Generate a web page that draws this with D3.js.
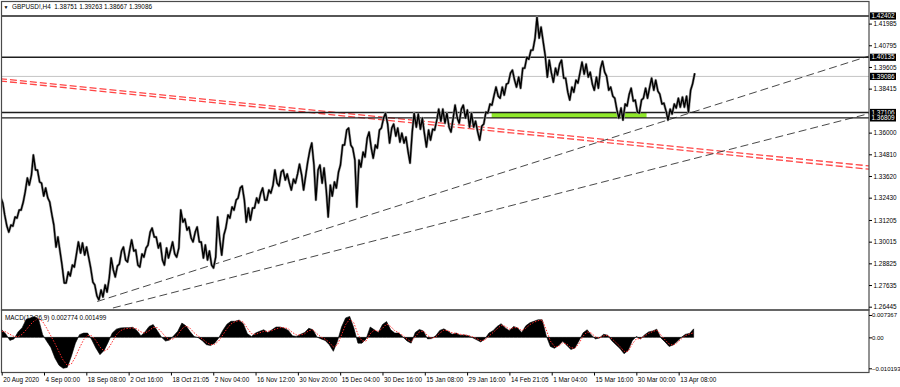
<!DOCTYPE html>
<html lang="en">
<head>
<meta charset="UTF-8">
<title>GBPUSD!,H4</title>
<script src="https://d3js.org/d3.v7.min.js"></script>
<style>
  body { margin: 0; background: #fff; }
  svg text { font-family: "Liberation Sans", Arial, sans-serif; font-size: 6.4px; fill: #000; }
</style>
</head>
<body>
<svg id="chart" width="900" height="387"></svg>
<script>
// one sample = 6 H4 bars, sample i sits at bar i*6
const highs = [
  1.3246,1.3148,1.3093,1.3137,1.3175,1.3219,1.3351,1.3367,1.3477,1.3395,
  1.3323,1.3296,1.3219,1.3093,1.3027,1.2873,1.2835,1.2873,1.2934,1.3000,
  1.2994,1.2972,1.2857,1.2764,1.2736,1.2764,1.2802,1.2912,1.2868,1.2950,
  1.2972,1.2956,1.3011,1.2956,1.2934,1.2967,1.3054,1.3076,1.3027,1.2994,
  1.2967,1.2956,1.3000,1.2967,1.3175,1.3126,1.3082,1.3054,1.3082,1.3000,
  1.2983,1.2950,1.2917,1.3137,1.3038,1.3148,1.3192,1.3230,1.3296,1.3307,
  1.3186,1.3186,1.3241,1.3268,1.3296,1.3285,1.3312,1.3395,1.3384,1.3395,
  1.3373,1.3345,1.3373,1.3427,1.3367,1.3504,1.3543,1.3395,1.3422,1.3406,
  1.3312,1.3329,1.3384,1.3532,1.3614,1.3625,1.3515,1.3449,1.3493,1.3570,
  1.3603,1.3532,1.3614,1.3680,1.3707,1.3625,1.3647,1.3625,1.3597,1.3576,
  1.3603,1.3707,1.3702,1.3680,1.3614,1.3619,1.3669,1.3729,1.3729,1.3707,
  1.3680,1.3751,1.3729,1.3751,1.3724,1.3707,1.3663,1.3636,1.3713,1.3757,
  1.3806,1.3850,1.3850,1.3866,1.3927,1.3943,1.3905,1.3954,1.4014,1.4053,
  1.4119,1.4234,1.4179,1.4025,1.3998,1.3954,1.3976,1.3998,1.3899,1.3850,
  1.3888,1.3932,1.3987,1.3976,1.3932,1.3905,1.3954,1.3992,1.3910,1.3850,
  1.3789,1.3735,1.3757,1.3811,1.3844,1.3779,1.3779,1.3844,1.3850,1.3899,
  1.3888,1.3811,1.3762,1.3729,1.3757,1.3789,1.3795,1.3800,1.3833,1.3926
];
const lows = [
  1.3214,1.3087,1.3054,1.3087,1.3131,1.3175,1.3274,1.3312,1.3395,1.3329,
  1.3252,1.3241,1.3148,1.2972,1.2945,1.2775,1.2775,1.2813,1.2862,1.2939,
  1.2928,1.2912,1.2780,1.2703,1.2682,1.2698,1.2725,1.2846,1.2808,1.2879,
  1.2901,1.2890,1.2950,1.2873,1.2862,1.2917,1.2983,1.3027,1.2967,1.2901,
  1.2873,1.2912,1.2934,1.2917,1.3109,1.3065,1.3022,1.3000,1.3000,1.2912,
  1.2901,1.2873,1.2857,1.3011,1.2928,1.3076,1.3131,1.3175,1.3241,1.3230,
  1.3109,1.3120,1.3186,1.3214,1.3230,1.3230,1.3268,1.3323,1.3307,1.3340,
  1.3323,1.3285,1.3323,1.3367,1.3285,1.3438,1.3422,1.3230,1.3323,1.3285,
  1.3137,1.3252,1.3296,1.3422,1.3532,1.3532,1.3449,1.3192,1.3411,1.3466,
  1.3515,1.3460,1.3515,1.3625,1.3647,1.3543,1.3581,1.3548,1.3543,1.3493,
  1.3433,1.3630,1.3619,1.3592,1.3521,1.3559,1.3614,1.3663,1.3652,1.3630,
  1.3603,1.3680,1.3652,1.3680,1.3630,1.3630,1.3603,1.3559,1.3647,1.3707,
  1.3751,1.3800,1.3789,1.3806,1.3872,1.3888,1.3850,1.3844,1.3954,1.4003,
  1.4053,1.4119,1.4097,1.3905,1.3927,1.3877,1.3916,1.3899,1.3822,1.3779,
  1.3822,1.3872,1.3921,1.3905,1.3866,1.3833,1.3844,1.3932,1.3833,1.3800,
  1.3724,1.3680,1.3669,1.3746,1.3773,1.3713,1.3707,1.3789,1.3789,1.3833,
  1.3828,1.3757,1.3718,1.3669,1.3702,1.3735,1.3740,1.3740,1.3713,1.3867
];
const macd = [
  0.0025,0.0011,-0.0010,-0.0005,0.0018,0.0032,0.0060,0.0064,0.0069,0.0060,
  0.0009,-0.0013,-0.0033,-0.0068,-0.0092,-0.0102,-0.0099,-0.0063,-0.0019,0.0009,
  0.0014,0.0014,-0.0008,-0.0035,-0.0057,-0.0043,-0.0016,0.0014,0.0027,0.0031,
  0.0032,0.0032,0.0033,0.0023,0.0005,0.0018,0.0036,0.0042,0.0022,0.0001,
  -0.0012,-0.0009,0.0005,0.0020,0.0047,0.0038,0.0019,0.0003,-0.0001,-0.0011,
  -0.0024,-0.0027,-0.0019,-0.0002,0.0023,0.0043,0.0053,0.0053,0.0057,0.0045,
  0.0012,0.0003,0.0014,0.0020,0.0025,0.0016,0.0025,0.0034,0.0034,0.0030,
  0.0023,0.0005,0.0003,0.0010,0.0016,0.0030,0.0025,0.0001,-0.0005,-0.0010,
  -0.0024,-0.0046,-0.0013,0.0034,0.0064,0.0069,0.0031,-0.0019,-0.0019,-0.0005,
  0.0034,0.0025,0.0016,0.0042,0.0052,0.0025,0.0014,0.0014,0.0001,-0.0012,
  -0.0019,0.0016,0.0026,0.0021,-0.0005,-0.0004,0.0005,0.0023,0.0028,0.0020,
  0.0010,0.0014,0.0007,0.0008,0.0005,-0.0001,-0.0008,-0.0015,-0.0005,0.0014,
  0.0022,0.0036,0.0045,0.0031,0.0022,0.0036,0.0031,0.0016,0.0038,0.0048,
  0.0053,0.0058,0.0058,0.0005,-0.0030,-0.0036,-0.0027,-0.0013,-0.0026,-0.0040,
  -0.0035,-0.0011,0.0015,0.0025,0.0008,-0.0005,-0.0002,0.0010,0.0007,-0.0011,
  -0.0024,-0.0037,-0.0054,-0.0043,-0.0011,0.0003,-0.0005,0.0008,0.0018,0.0021,
  0.0027,-0.0002,-0.0015,-0.0030,-0.0025,-0.0013,0.0000,0.0010,0.0013,0.0028
];
const signal = [
  0.0020,0.0018,0.0010,0.0003,0.0002,0.0010,0.0025,0.0042,0.0055,0.0062,
  0.0052,0.0030,0.0005,-0.0020,-0.0048,-0.0075,-0.0092,-0.0088,-0.0065,-0.0035,
  -0.0008,0.0006,0.0005,-0.0010,-0.0032,-0.0045,-0.0038,-0.0015,0.0008,0.0022,
  0.0028,0.0030,0.0031,0.0028,0.0018,0.0014,0.0022,0.0033,0.0032,0.0018,
  0.0002,-0.0008,-0.0004,0.0008,0.0028,0.0038,0.0030,0.0015,0.0004,-0.0005,
  -0.0016,-0.0024,-0.0023,-0.0012,0.0008,0.0028,0.0044,0.0052,0.0055,0.0050,
  0.0030,0.0012,0.0010,0.0015,0.0020,0.0020,0.0022,0.0028,0.0032,0.0032,
  0.0028,0.0016,0.0008,0.0008,0.0012,0.0022,0.0025,0.0012,0.0001,-0.0006,
  -0.0016,-0.0032,-0.0025,0.0008,0.0042,0.0060,0.0048,0.0010,-0.0012,-0.0012,
  0.0012,0.0024,0.0020,0.0030,0.0044,0.0036,0.0022,0.0015,0.0006,-0.0006,
  -0.0014,0.0002,0.0018,0.0021,0.0006,-0.0003,0.0001,0.0014,0.0024,0.0022,
  0.0015,0.0013,0.0010,0.0008,0.0006,0.0002,-0.0004,-0.0011,-0.0009,0.0004,
  0.0016,0.0028,0.0040,0.0036,0.0027,0.0032,0.0032,0.0022,0.0030,0.0042,
  0.0050,0.0055,0.0057,0.0025,-0.0012,-0.0030,-0.0030,-0.0018,-0.0022,-0.0034,
  -0.0036,-0.0020,0.0004,0.0018,0.0014,0.0002,-0.0002,0.0005,0.0007,-0.0004,
  -0.0017,-0.0030,-0.0046,-0.0046,-0.0022,-0.0005,-0.0004,0.0004,0.0013,0.0019,
  0.0024,0.0008,-0.0008,-0.0022,-0.0026,-0.0017,-0.0005,0.0006,0.0011,0.0015
];

const timeLabels = ["20 Aug 2020", "4 Sep 00:00", "18 Sep 08:00", "2 Oct 16:00", "18 Oct 21:05",
  "2 Nov 04:00", "16 Nov 12:00", "30 Nov 20:00", "15 Dec 04:00", "30 Dec 16:00", "15 Jan 08:00",
  "29 Jan 16:00", "14 Feb 21:05", "1 Mar 04:00", "15 Mar 16:00", "30 Mar 00:00", "13 Apr 08:00"];
const barsPerLabel = 62;
const priceTicks = [1.41985, 1.40795, 1.39605, 1.38415, 1.36000, 1.34810, 1.33620,
  1.32430, 1.31205, 1.30015, 1.28825, 1.27635, 1.26445];
const macdTicks = [0.007367, 0, -0.010193];
const hLevels = [1.42402, 1.40135, 1.37106, 1.36809];
const bid = 1.39086;
const title = "GBPUSD!,H4  1.38751 1.39263 1.38667 1.39086";
const macdTitle = "MACD(12,26,9) 0.002774 0.001499";

// trend lines as [bar, price] pairs
const blackTrends = [[[140, 1.26730], [1271, 1.40206]], [[163, 1.26374], [1271, 1.37045]]];
const redTrends = [[[-2.5, 1.38960], [1271, 1.34174]], [[-2.5, 1.38834], [1271, 1.33993]]];
const zone = { bar0: 718, bar1: 945, top: 1.37106, bottom: 1.36809 };

const svg = d3.select("#chart");
const plotLeft = 1.5, plotRight = 869, plotTop = 1.5, mainBottom = 310, macdBottom = 372.5;

const x = d3.scaleLinear().domain([0, 1000]).range([1.7, 684.1]);
const y = d3.scaleLinear().domain([1.26445, 1.42402]).range([306.7, 16]);
const ym = d3.scaleLinear().domain([-0.010193, 0.007367]).range([368.3, 315]);

svg.append("rect").attr("width", 900).attr("height", 387).attr("fill", "#fff");

svg.append("clipPath").attr("id", "mainClip")
  .append("rect").attr("x", plotLeft).attr("y", plotTop)
  .attr("width", plotRight - plotLeft).attr("height", mainBottom - plotTop);
const plot = svg.append("g").attr("clip-path", "url(#mainClip)");

// green zone
plot.append("rect")
  .attr("x", x(zone.bar0)).attr("y", y(zone.top))
  .attr("width", x(zone.bar1) - x(zone.bar0))
  .attr("height", y(zone.bottom) - y(zone.top))
  .attr("fill", "#8fe82a");

const seg = d3.line().x(d => x(d[0])).y(d => y(d[1]));

redTrends.forEach(t => {
  plot.append("path").attr("d", seg(t))
    .attr("fill", "none").attr("stroke", "#ff4646")
    .attr("stroke-width", 1.3).attr("stroke-dasharray", "7,3");
});
blackTrends.forEach(t => {
  plot.append("path").attr("d", seg(t))
    .attr("fill", "none").attr("stroke", "#333")
    .attr("stroke-width", 0.9).attr("stroke-dasharray", "8,4");
});

// bid line
plot.append("line")
  .attr("x1", plotLeft).attr("x2", plotRight)
  .attr("y1", y(bid)).attr("y2", y(bid))
  .attr("stroke", "#c4c4c4").attr("stroke-width", 1);

hLevels.forEach(v => {
  plot.append("line")
    .attr("x1", plotLeft).attr("x2", plotRight)
    .attr("y1", y(v)).attr("y2", y(v))
    .attr("stroke", "#1e1e1e").attr("stroke-width", 1.4);
});

// price bars: each sample is a short high-low stroke, chained into one jagged line
const zig = [];
highs.forEach((h, i) => {
  const lo = lows[i];
  const mid = (h + lo) / 2;
  const nextMid = i < highs.length - 1 ? (highs[i + 1] + lows[i + 1]) / 2 : mid;
  const pair = nextMid >= mid ? [lo, h] : [h, lo];
  zig.push({ bar: i * 6 - 1.6, p: pair[0] });
  zig.push({ bar: i * 6 + 1.6, p: pair[1] });
});
const zigLine = d3.line().x(d => x(d.bar)).y(d => y(d.p));
plot.append("path").attr("d", zigLine(zig))
  .attr("fill", "none").attr("stroke", "#9a9a9a").attr("stroke-width", 2.6)
  .attr("stroke-linejoin", "round");
plot.append("path").attr("d", zigLine(zig))
  .attr("fill", "none").attr("stroke", "#000").attr("stroke-width", 1.4)
  .attr("stroke-linejoin", "round");

// MACD
const mData = macd.map((v, i) => ({ bar: i * 6, v: v, s: signal[i] }));
svg.append("path").datum(mData)
  .attr("d", d3.area().x(d => x(d.bar)).y0(ym(0)).y1(d => ym(d.v)))
  .attr("fill", "#000").attr("stroke", "#000").attr("stroke-width", 0.6);
svg.append("path").datum(mData)
  .attr("d", d3.line().x(d => x(d.bar)).y(d => ym(d.s)))
  .attr("fill", "none").attr("stroke", "#ff2a2a")
  .attr("stroke-width", 1).attr("stroke-dasharray", "1.5,1.5");

// frames
[[plotTop, mainBottom], [mainBottom, macdBottom]].forEach(r => {
  svg.append("rect")
    .attr("x", plotLeft).attr("y", r[0])
    .attr("width", plotRight - plotLeft).attr("height", r[1] - r[0])
    .attr("fill", "none").attr("stroke", "#4a4a4a").attr("stroke-width", 1.2);
});

// price axis
const pAxis = svg.append("g").attr("transform", `translate(${plotRight},0)`)
  .call(d3.axisRight(y).tickValues(priceTicks).tickSize(3).tickFormat(d3.format(".5f")));
pAxis.select(".domain").remove();
pAxis.selectAll("text").attr("x", 4.5).style("font-size", "6.4px");

// boxed level labels
hLevels.concat([bid]).forEach(v => {
  svg.append("rect")
    .attr("x", plotRight + 1).attr("y", y(v) - 3.6)
    .attr("width", 26).attr("height", 7.2).attr("fill", "#000");
  svg.append("text")
    .attr("x", plotRight + 2.5).attr("y", y(v)).attr("dy", "0.34em")
    .style("fill", "#fff").text(d3.format(".5f")(v));
});

// MACD axis
const mAxis = svg.append("g").attr("transform", `translate(${plotRight},0)`)
  .call(d3.axisRight(ym).tickValues(macdTicks).tickSize(3)
    .tickFormat(d => d === 0 ? "0.00" : d3.format(".6f")(d)));
mAxis.select(".domain").remove();
mAxis.selectAll("text").attr("x", 3).style("font-size", "6px");

// time axis
const tAxis = svg.append("g").attr("transform", `translate(0,${macdBottom})`)
  .call(d3.axisBottom(x).tickValues(timeLabels.map((d, i) => i * barsPerLabel))
    .tickSize(3).tickFormat((d, i) => timeLabels[i]));
tAxis.select(".domain").remove();
tAxis.selectAll("text").attr("text-anchor", "start").attr("x", 1).attr("y", 5)
  .style("font-size", "6.4px");

// titles
svg.append("text").attr("x", 3.5).attr("y", 8.6).style("font-size", "5px").text("▼");
svg.append("text").attr("x", 12).attr("y", 9.4).attr("xml:space", "preserve").text(title);
svg.append("text").attr("x", 5).attr("y", 320).text(macdTitle);
</script>
</body>
</html>
